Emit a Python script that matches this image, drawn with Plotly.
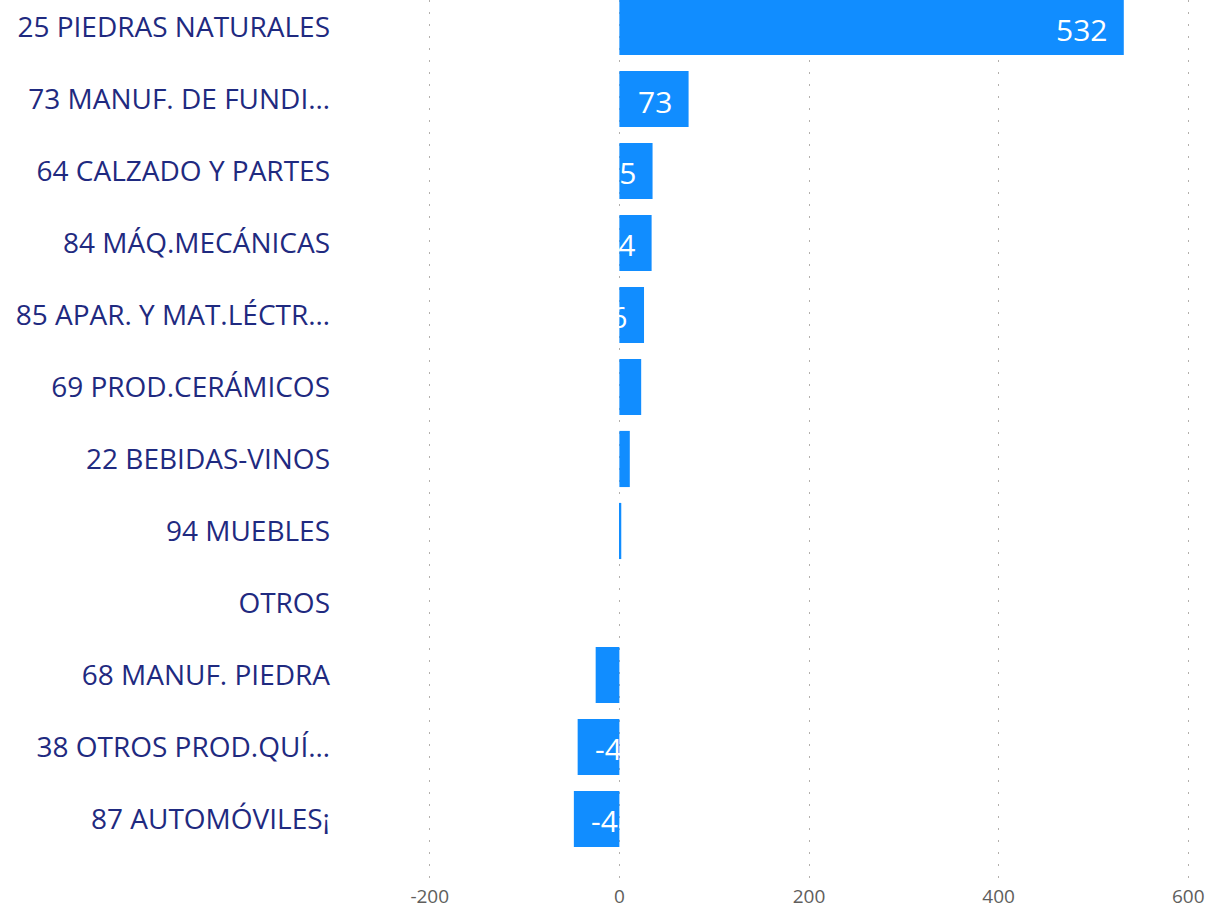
import plotly.graph_objects as go

categories = [
    "25 PIEDRAS NATURALES",
    "73 MANUF. DE FUNDI…",
    "64 CALZADO Y PARTES",
    "84 MÁQ.MECÁNICAS",
    "85 APAR. Y MAT.LÉCTR…",
    "69 PROD.CERÁMICOS",
    "22 BEBIDAS-VINOS",
    "94 MUEBLES",
    "OTROS",
    "68 MANUF. PIEDRA",
    "38 OTROS PROD.QUÍ…",
    "87 AUTOMÓVILES¡",
]
values = [532, 73, 35, 34, 26, 23, 11, 2, 0, -25, -44, -48]
label_shown = [True, True, True, True, True, False, False, False, False, False, True, True]
x_ticks = [-200, 0, 200, 400, 600]
x_tick_labels = ["-200", "0", "200", "400", "600"]

BAR = "#118DFF"
FONT = "Open Sans, Segoe UI, sans-serif"

fig = go.Figure()
fig.add_trace(go.Bar(
    y=categories,
    x=values,
    orientation="h",
    marker=dict(color=BAR, line=dict(width=0)),
    width=0.78,
    hoverinfo="x+y",
))

for cat, v, show in zip(categories, values, label_shown):
    if not show:
        continue
    fig.add_annotation(
        x=v, y=cat, text=str(v), showarrow=False,
        xanchor="right" if v >= 0 else "left",
        xshift=-15 if v >= 0 else 15,
        yshift=-2,
        font=dict(family=FONT, size=30, color="white"),
    )

fig.update_layout(
    width=1209, height=908,
    margin=dict(l=425, r=16, t=0, b=30),
    paper_bgcolor="white", plot_bgcolor="white",
    showlegend=False,
    xaxis=dict(
        range=[-205, 605],
        tickvals=x_ticks,
        ticktext=x_tick_labels,
        showgrid=True, gridcolor="#B3B0AD", griddash="1.5px,10.5px", gridwidth=1,
        zeroline=False, showline=False,
        tickfont=dict(family=FONT, size=19, color="#605E5C"),
        ticks="",
        ticklabelstandoff=5,
    ),
    yaxis=dict(
        categoryorder="array", categoryarray=categories,
        range=[11.82, -0.375],
        showgrid=False, zeroline=False, showline=False,
        tickfont=dict(family=FONT, size=28, color="#1F2A80"),
        ticks="",
        ticklabelstandoff=94,
    ),
)

fig.write_html(
    "out.html",
    config={"displayModeBar": False},
    post_script="document.body.style.margin='0';",
)
